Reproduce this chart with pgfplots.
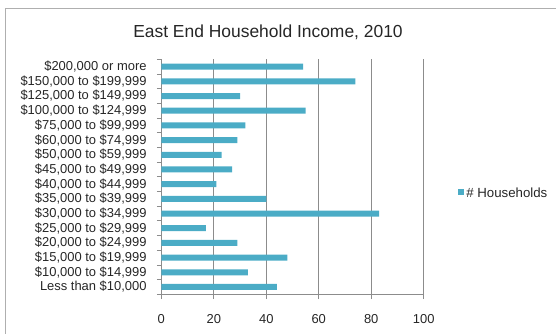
\documentclass[border=0pt]{standalone}
\usepackage{pgfplots}
\pgfplotsset{compat=1.18}
\usepackage{fontspec}
\setmainfont{Liberation Sans}
\definecolor{barc}{HTML}{4BACC6}
\definecolor{axc}{HTML}{8C8C8C}
\definecolor{txt}{HTML}{262626}
\begin{document}
\begin{tikzpicture}[x=1bp,y=1bp]
\useasboundingbox (0,0) rectangle (556,333);
\draw[color=axc!70, line width=0.8bp] (5.5,-20) -- (5.5,325) -- (620,325);
\node[text=txt, font=\fontsize{17.5}{20}\selectfont] at (268,300.7) {East End Household Income, 2010};
\begin{axis}[
  at={(161.3bp,38.7bp)}, anchor=south west,
  scale only axis, width=262.4bp, height=235bp,
  xmin=0, xmax=100, ymin=-0.5, ymax=15.5,
  xtick={0,20,40,60,80,100},
  ytick={0,...,15},
  minor ytick={-0.5,0.5,...,15.5},
  yticklabels={{Less than \$10,000},{\$10,000 to \$14,999},{\$15,000 to \$19,999},{\$20,000 to \$24,999},{\$25,000 to \$29,999},{\$30,000 to \$34,999},{\$35,000 to \$39,999},{\$40,000 to \$44,999},{\$45,000 to \$49,999},{\$50,000 to \$59,999},{\$60,000 to \$74,999},{\$75,000 to \$99,999},{\$100,000 to \$124,999},{\$125,000 to \$149,999},{\$150,000 to \$199,999},{\$200,000 or more}},
  axis x line*=bottom, axis y line*=left,
  axis line style={color=axc, line width=0.8bp, -},
  xmajorgrids, major grid style={color=axc, line width=0.8bp},
  tick align=outside,
  xtick style={color=axc, line width=0.8bp},
  major tick length=4.7bp,
  minor tick length=4.5bp,
  ytick style={draw=none},
  minor y tick style={draw=axc, line width=0.8bp},
  tick label style={font=\fontsize{13}{15}\selectfont, text=txt},
  /pgf/number format/assume math mode=true,
  yticklabel style={anchor=east, xshift=-6.5bp},
  xticklabel style={yshift=-12bp},
  legend style={at={(axis description cs:1.13,0.431)}, anchor=west, draw=none, fill=none, inner sep=0pt, font=\fontsize{13.3}{15}\selectfont, text=txt, legend cell align=left},
  legend image code/.code={\fill[barc] (0bp,-2.2bp) rectangle (6.3bp,4.1bp);},
]
\addplot[xbar, bar width=6bp, fill=barc, draw=none] coordinates {
(44,0) (33,1) (48,2) (29,3) (17,4) (83,5) (40,6) (21,7) (27,8) (23,9) (29,10) (32,11) (55,12) (30,13) (74,14) (54,15)
};
\addlegendentry{\# Households}
\end{axis}
\end{tikzpicture}
\end{document}
